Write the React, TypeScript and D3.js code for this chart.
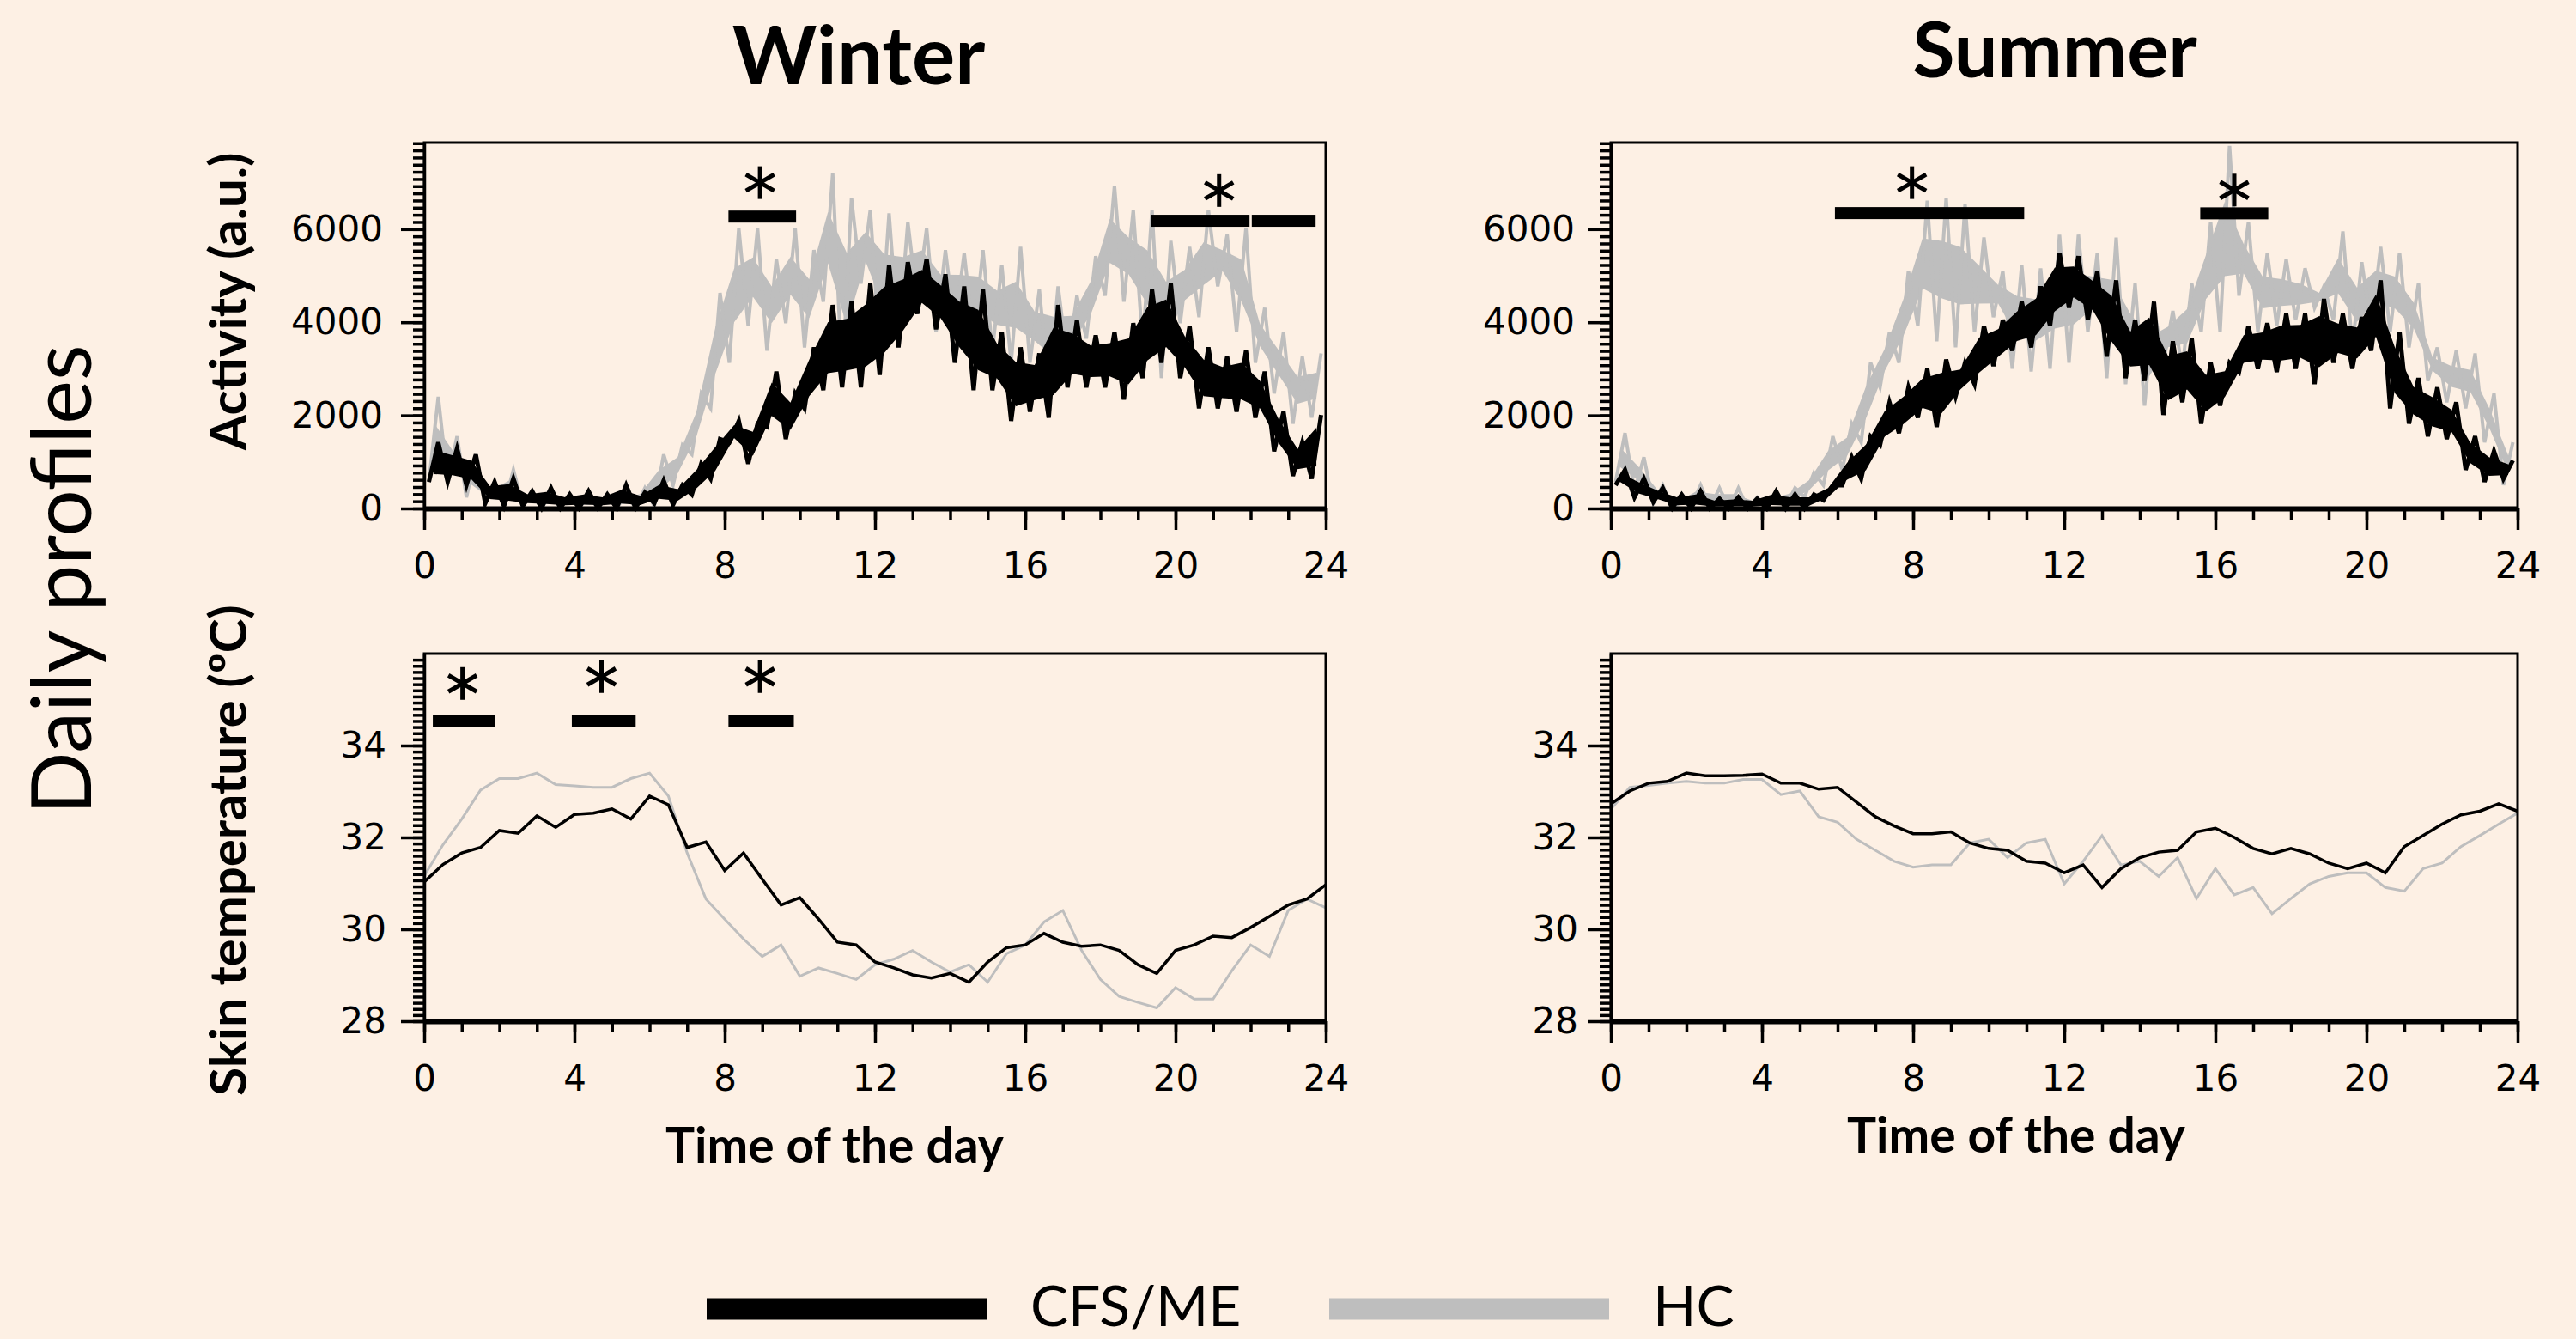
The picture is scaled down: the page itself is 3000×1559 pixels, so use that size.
import React, { useEffect, useRef } from "react";
import * as d3 from "d3";

const BG = "#fdf0e4";
const GRAY = "#bebebe";

// activity: half-hour bins, low / high edge of the trace (a.u.)
const winterCfsActLo = [570, 570, 500, 110, 50, 50, 10, 10, 10, 10, 10, 10, 110, 80, 300, 640, 1420, 960, 1750, 1490, 2150, 2540, 2600, 2600,
  2870, 3460, 4180, 3850, 3130, 2540, 2540, 1880, 2080, 1950, 2600, 2600, 2600, 2340, 2800, 3130, 2800, 2150, 2150, 2080, 1950, 1230, 700, 640];
const winterCfsActHi = [1420, 1290, 1160, 570, 640, 370, 440, 300, 370, 300, 500, 340, 600, 500, 960, 1490, 1880, 1820, 2940, 2470, 3460, 4370, 4440, 4830,
  5230, 5290, 5360, 5030, 4770, 4700, 3790, 3460, 3330, 4370, 4050, 3720, 3790, 3980, 4700, 4830, 3920, 3460, 3260, 3390, 2940, 2080, 1420, 2010];
const winterHcActLo = [570, 570, 240, 110, 50, 50, 10, 10, 10, 10, 10, 10, 50, 500, 1160, 2150, 3130, 3920, 3390, 3980, 3460, 4440, 2740, 4830,
  3390, 3650, 4440, 3790, 3920, 3650, 3390, 3130, 3130, 2600, 3130, 3650, 4570, 4440, 3520, 2800, 3980, 4110, 4770, 3790, 3130, 2470, 1820, 1950];
const winterHcActHi = [2400, 1550, 1160, 500, 830, 300, 300, 250, 250, 250, 300, 440, 1160, 1360, 2470, 4630, 6020, 6020, 5360, 6020, 5550, 7200, 6670, 6410,
  6340, 6150, 6020, 5550, 5490, 5550, 5230, 5620, 4700, 4770, 4570, 5420, 6930, 6410, 6410, 5750, 5620, 6410, 5880, 6020, 4310, 3790, 3260, 3330];

const summerCfsActLo = [500, 240, 140, 10, 10, 0, 0, 0, 0, 0, 0, 180, 500, 640, 1360, 1620, 1950, 1750, 2410, 2670, 3060, 3390, 3460, 3920,
  4310, 4050, 3260, 2800, 2740, 2010, 2280, 1820, 2210, 2930, 3000, 2930, 3000, 2670, 3130, 3000, 3390, 2150, 1820, 1550, 1490, 830, 570, 640];
const summerCfsActHi = [830, 640, 440, 300, 370, 210, 240, 210, 370, 300, 300, 500, 1100, 1550, 2280, 2600, 3000, 3200, 3130, 3920, 4050, 4440, 4770, 5490,
  5420, 5100, 4900, 4050, 4440, 3590, 3650, 3130, 3130, 3920, 3980, 4180, 4180, 4500, 4180, 4110, 4900, 3790, 2800, 2600, 2280, 1550, 1230, 1030];
const summerHcActLo = [570, 370, 110, 0, 50, 10, 10, 0, 0, 50, 240, 500, 830, 1420, 2600, 3130, 3920, 3590, 3460, 3790, 4110, 3000, 2940, 3000,
  3130, 3790, 2800, 2670, 2210, 3130, 3000, 3790, 3790, 4570, 3790, 3920, 4050, 4310, 4050, 3460, 3920, 3790, 3460, 2740, 2280, 2150, 1420, 500];
const summerHcActHi = [1620, 1100, 500, 180, 500, 440, 440, 240, 300, 440, 770, 1550, 1820, 3130, 3790, 5100, 6610, 6670, 6540, 5820, 5100, 5230, 5160, 5880,
  5880, 5490, 5820, 4830, 4310, 4240, 4830, 6150, 7790, 6150, 5490, 5360, 5160, 4770, 5950, 5290, 5620, 5490, 4830, 3460, 3390, 3330, 2470, 1420];

// skin temperature (ºC), every half hour from 0 to 24
const winterCfsTemp = [31.03, 31.41, 31.66, 31.78, 32.15, 32.09, 32.47, 32.22, 32.5, 32.53, 32.62, 32.4, 32.9, 32.71, 31.78, 31.9, 31.28, 31.66, 31.09,
  30.53, 30.69, 30.22, 29.72, 29.66, 29.29, 29.16, 29.01, 28.94, 29.04, 28.85, 29.29, 29.6, 29.66, 29.91, 29.72, 29.63, 29.66, 29.54, 29.23, 29.04,
  29.54, 29.66, 29.85, 29.82, 30.04, 30.28, 30.53, 30.66, 30.97];
const winterHcTemp = [31.16, 31.84, 32.4, 33.03, 33.28, 33.28, 33.4, 33.15, 33.12, 33.09, 33.09, 33.28, 33.4, 32.9, 31.66, 30.66, 30.22, 29.79, 29.41,
  29.66, 28.98, 29.16, 29.04, 28.91, 29.23, 29.35, 29.54, 29.29, 29.07, 29.23, 28.85, 29.47, 29.66, 30.16, 30.41, 29.54, 28.91, 28.54, 28.41, 28.29,
  28.73, 28.48, 28.48, 29.1, 29.66, 29.41, 30.41, 30.66, 30.47];
const summerCfsTemp = [32.73, 33.01, 33.18, 33.22, 33.4, 33.34, 33.34, 33.35, 33.38, 33.18, 33.18, 33.05, 33.09, 32.77, 32.45, 32.25, 32.08, 32.08, 32.12,
  31.88, 31.76, 31.72, 31.48, 31.44, 31.23, 31.4, 30.91, 31.32, 31.56, 31.68, 31.72, 32.12, 32.2, 32.0, 31.76, 31.64, 31.76, 31.64, 31.44, 31.32,
  31.44, 31.23, 31.8, 32.04, 32.29, 32.49, 32.57, 32.73, 32.57];
const summerHcTemp = [32.61, 33.09, 33.13, 33.18, 33.22, 33.18, 33.18, 33.26, 33.26, 32.93, 33.01, 32.45, 32.33, 31.96, 31.72, 31.48, 31.35, 31.4, 31.4,
  31.88, 31.96, 31.56, 31.88, 31.96, 30.99, 31.48, 32.04, 31.4, 31.48, 31.15, 31.56, 30.67, 31.32, 30.75, 30.91, 30.34, 30.67, 30.99, 31.15, 31.23,
  31.23, 30.91, 30.83, 31.32, 31.44, 31.8, 32.04, 32.29, 32.53];

const hourTicks = d3.range(0, 25, 1);
const hourLabels = [0, 4, 8, 12, 16, 20, 24];
const activityTicks = [0, 2000, 4000, 6000];
const tempTicks = [28, 30, 32, 34];

// significance bars (hours) and asterisks
const sigWinterAct = [{ from: 8.1, to: 9.9, y: 6270 }, { from: 19.35, to: 21.97, y: 6180 }, { from: 22.03, to: 23.73, y: 6180 }];
const starWinterAct = [{ at: 8.94, y: 7000 }, { at: 21.16, y: 6830 }];
const sigSummerAct = [{ from: 5.93, to: 10.94, y: 6345 }, { from: 15.6, to: 17.4, y: 6340 }];
const starSummerAct = [{ at: 7.97, y: 7000 }, { at: 16.5, y: 6840 }];
const sigWinterTemp = [{ from: 0.23, to: 1.88, y: 34.53 }, { from: 3.93, to: 5.63, y: 34.53 }, { from: 8.1, to: 9.84, y: 34.53 }];
const starWinterTemp = [{ at: 1.02, y: 35.35 }, { at: 4.72, y: 35.5 }, { at: 8.94, y: 35.5 }];

const legendItems = [{ label: "CFS/ME", color: "#000" }, { label: "HC", color: GRAY }];

const panels = [
  { kind: "act", left: 494, right: 1544, top: 166, bottom: 592, domain: [0, 7860], ticks: activityTicks, minor: 2000 / 13, gap: 48,
    cfs: [winterCfsActLo, winterCfsActHi], hc: [winterHcActLo, winterHcActHi], sig: sigWinterAct, stars: starWinterAct },
  { kind: "act", left: 1876, right: 2932, top: 166, bottom: 592, domain: [0, 7860], ticks: activityTicks, minor: 2000 / 13, gap: 42,
    cfs: [summerCfsActLo, summerCfsActHi], hc: [summerHcActLo, summerHcActHi], sig: sigSummerAct, stars: starSummerAct },
  { kind: "temp", left: 494, right: 1544, top: 761, bottom: 1189, domain: [28, 36], ticks: tempTicks, minor: 2 / 15, gap: 44,
    cfs: winterCfsTemp, hc: winterHcTemp, sig: sigWinterTemp, stars: starWinterTemp },
  { kind: "temp", left: 1876, right: 2932, top: 761, bottom: 1189, domain: [28, 36], ticks: tempTicks, minor: 2 / 15, gap: 38,
    cfs: summerCfsTemp, hc: summerHcTemp, sig: [], stars: [] },
];

function drawPanel(g, p) {
  const x = d3.scaleLinear().domain([0, 24]).range([p.left, p.right]);
  const y = d3.scaleLinear().domain(p.domain).range([p.bottom, p.top]);

  if (p.kind === "act") {
    // trace runs low -> high inside every half-hour bin
    const trace = (lo, hi) => {
      const pts = lo.flatMap((v, i) => [[i * 0.5 + 0.125, v], [i * 0.5 + 0.375, hi[i]]]);
      return d3.line().x((d) => x(d[0])).y((d) => y(d[1]))(pts);
    };
    // dense core of the trace
    const band = (lo, hi, k) =>
      d3.area()
        .x((_, i) => x(i * 0.5 + 0.25))
        .y0((_, i) => y(lo[i] + (hi[i] - lo[i]) * k))
        .y1((_, i) => y(hi[i] - (hi[i] - lo[i]) * k))(lo);
    g.append("path").attr("d", band(p.hc[0], p.hc[1], 0.3)).attr("fill", GRAY);
    g.append("path").attr("d", trace(p.hc[0], p.hc[1])).attr("fill", "none").attr("stroke", GRAY).attr("stroke-width", 4);
    g.append("path").attr("d", band(p.cfs[0], p.cfs[1], 0.2)).attr("fill", "#000");
    g.append("path").attr("d", trace(p.cfs[0], p.cfs[1])).attr("fill", "none").attr("stroke", "#000").attr("stroke-width", 5);
  } else {
    const line = d3.line().x((_, i) => x(i * 0.5)).y((d) => y(d));
    g.append("path").attr("d", line(p.hc)).attr("fill", "none").attr("stroke", GRAY).attr("stroke-width", 3);
    g.append("path").attr("d", line(p.cfs)).attr("fill", "none").attr("stroke", "#000").attr("stroke-width", 3.5);
  }

  g.selectAll(".sig")
    .data(p.sig)
    .enter()
    .append("rect")
    .attr("x", (d) => x(d.from))
    .attr("width", (d) => x(d.to) - x(d.from))
    .attr("y", (d) => y(d.y) - 7)
    .attr("height", 14)
    .attr("fill", "#000");

  const star = g.selectAll(".star").data(p.stars).enter().append("g")
    .attr("transform", (d) => `translate(${x(d.at)},${y(d.y)})`);
  [90, 30, 150].forEach((a) => {
    const r = (a * Math.PI) / 180;
    star.append("line")
      .attr("x1", -19 * Math.cos(r)).attr("y1", -19 * Math.sin(r))
      .attr("x2", 19 * Math.cos(r)).attr("y2", 19 * Math.sin(r))
      .attr("stroke", "#000").attr("stroke-width", 5);
  });

  g.append("rect")
    .attr("x", p.left).attr("y", p.top)
    .attr("width", p.right - p.left).attr("height", p.bottom - p.top)
    .attr("fill", "none").attr("stroke", "#000").attr("stroke-width", 3);

  const styleAxis = (a) => {
    a.selectAll("path").attr("stroke", "#000").attr("stroke-width", 3.5);
    a.selectAll("line").attr("stroke", "#000").attr("stroke-width", 3.5);
    a.selectAll("text").attr("font-family", "'DejaVu Sans', sans-serif").attr("font-size", 42).attr("fill", "#000");
  };

  const xMinor = g.append("g").attr("transform", `translate(0,${p.bottom})`)
    .call(d3.axisBottom(x).tickValues(hourTicks).tickSize(13).tickSizeOuter(0).tickFormat(() => ""));
  styleAxis(xMinor);
  xMinor.select("path").attr("stroke-width", 6);
  const xMajor = g.append("g").attr("transform", `translate(0,${p.bottom})`)
    .call(d3.axisBottom(x).tickValues(hourLabels).tickSize(25).tickSizeOuter(0).tickPadding(26).tickFormat(d3.format("d")));
  styleAxis(xMajor);
  xMajor.select("path").remove();

  const yMinor = g.append("g").attr("transform", `translate(${p.left},0)`)
    .call(d3.axisLeft(y).tickValues(d3.range(p.domain[0], p.domain[1], p.minor)).tickSize(13).tickSizeOuter(0).tickFormat(() => ""));
  styleAxis(yMinor);
  const yMajor = g.append("g").attr("transform", `translate(${p.left},0)`)
    .call(d3.axisLeft(y).tickValues(p.ticks).tickSize(27).tickSizeOuter(0).tickPadding(p.gap - 27).tickFormat(d3.format("d")));
  styleAxis(yMajor);
  yMajor.select("path").remove();
}

export default function App() {
  const ref = useRef(null);

  useEffect(() => {
    const svg = d3.select(ref.current);
    svg.selectAll("*").remove();

    svg.append("rect").attr("width", 3000).attr("height", 1559).attr("fill", BG);

    panels.forEach((p) => drawPanel(svg.append("g"), p));

    const text = (t, x, y, size, weight, anchor = "middle") =>
      svg.append("text").text(t).attr("x", x).attr("y", y)
        .attr("font-family", "Lato, sans-serif").attr("font-size", size)
        .attr("font-weight", weight).attr("text-anchor", anchor).attr("fill", "#000");

    text("Winter", 1000, 98, 94, 700);
    text("Summer", 2393, 90, 90, 700);
    text("Time of the day", 972, 1354, 57, 700);
    text("Time of the day", 2348, 1342, 57, 700);

    const vtext = (t, cx, cy, size, weight) =>
      svg.append("text").text(t)
        .attr("transform", `translate(${cx},${cy}) rotate(-90)`)
        .attr("font-family", "Lato, sans-serif").attr("font-size", size)
        .attr("font-weight", weight).attr("text-anchor", "middle").attr("fill", "#000");

    vtext("Activity (a.u.)", 287, 351, 60, 700);
    vtext("Skin temperature (ºC)", 287, 990, 60, 700);
    vtext("Daily profiles", 106, 675, 96, 400);

    const lg = svg.selectAll(".legend").data(legendItems).enter().append("g")
      .attr("transform", (_, i) => `translate(${823 + i * 725},1524)`);
    lg.append("line").attr("x1", 0).attr("x2", 326).attr("y1", 0).attr("y2", 0)
      .attr("stroke", (d) => d.color).attr("stroke-width", 25);
    lg.append("text").text((d) => d.label).attr("x", 377).attr("y", 20)
      .attr("font-family", "Lato, sans-serif").attr("font-size", 66).attr("fill", "#000");
  }, []);

  return (
    <svg ref={ref} width={3000} height={1559}
      style={{ position: "absolute", left: 0, top: 0, display: "block" }} />
  );
}
